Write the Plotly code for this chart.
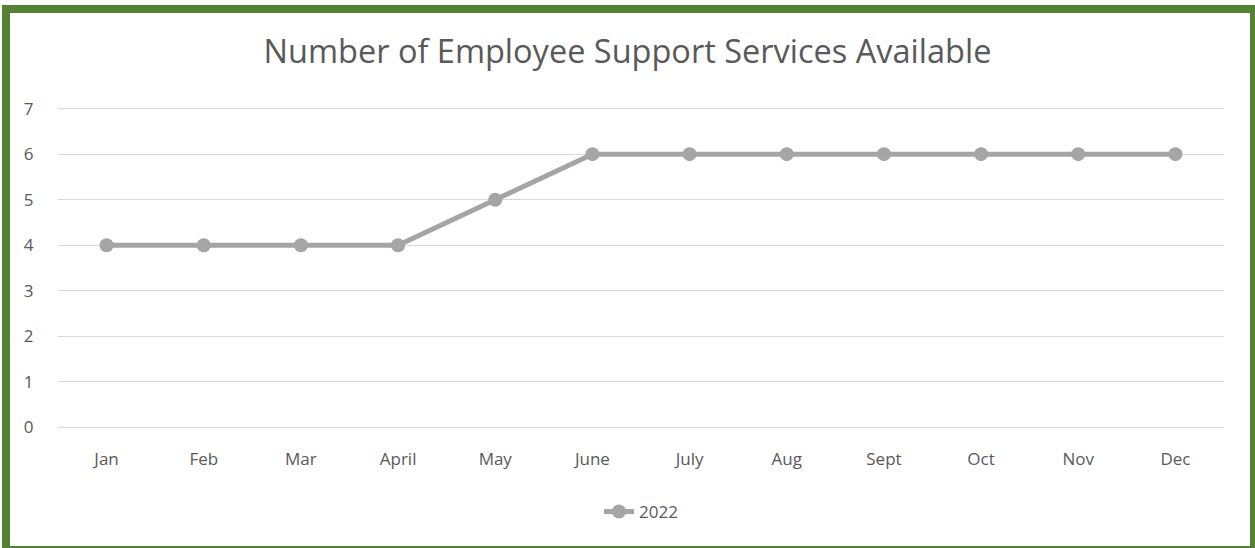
import plotly.graph_objects as go

months = ['Jan', 'Feb', 'Mar', 'April', 'May', 'June', 'July', 'Aug',
          'Sept', 'Oct', 'Nov', 'Dec']
services_2022 = [4, 4, 4, 4, 5, 6, 6, 6, 6, 6, 6, 6]
series_name = '2022'

W, H = 1255, 548
ML, MR, MT, MB = 58, 31, 107, 119
pw, ph = W - ML - MR, H - MT - MB


def px_x(x):
    return (x - ML) / pw


def px_y(y):
    return (H - MB - y) / ph


grey = '#A5A5A5'
text_grey = '#595959'

fig = go.Figure()
fig.add_trace(go.Scatter(
    x=months, y=services_2022, name=series_name, mode='lines+markers',
    line=dict(color=grey, width=5), marker=dict(color=grey, size=14)))

fig.update_layout(
    width=W, height=H,
    margin=dict(l=ML, r=MR, t=MT, b=MB),
    paper_bgcolor='white', plot_bgcolor='white',
    font=dict(family='Open Sans', color=text_grey, size=17),
    title=dict(text='Number of Employee Support Services Available',
               x=0.5, xanchor='center', y=1 - 52 / H, yanchor='middle',
               font=dict(size=32.5, color=text_grey)),
    showlegend=True,
    legend=dict(orientation='h', x=0.5, xanchor='center',
                y=px_y(512), yanchor='middle', font=dict(size=17)),
)
fig.update_xaxes(type='category', range=[-0.5, 11.5], showgrid=False,
                 showline=False, zeroline=False, ticks='outside',
                 ticklen=15, tickcolor='rgba(0,0,0,0)', fixedrange=True)
fig.update_yaxes(range=[-0.035, 7.035], dtick=1, showgrid=True,
                 gridcolor='#D9D9D9', gridwidth=1, zeroline=False,
                 showline=False, ticks='outside', ticklen=20,
                 tickcolor='rgba(0,0,0,0)', fixedrange=True)

# green frame round the whole chart
fig.add_shape(type='rect', xref='paper', yref='paper',
              x0=px_x(6), x1=px_x(1254), y0=px_y(550), y1=px_y(9),
              line=dict(color='#548235', width=8), layer='above')

fig.write_html('out.html', config={'displayModeBar': False},
               post_script="document.body.style.margin='0px';")
